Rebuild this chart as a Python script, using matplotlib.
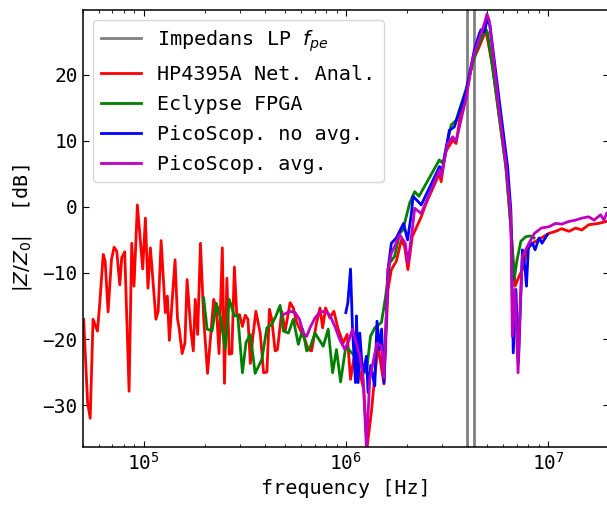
#!/usr/bin/python3

import numpy as np
import matplotlib as mpl
mpl.use('Agg')
from matplotlib import pyplot as plt

mpl.rcParams['font.size'] = 14.5
mpl.rcParams['font.family'] = 'DejaVu Sans Mono'
mpl.rcParams['xtick.labelsize'] = 14
mpl.rcParams['ytick.labelsize'] = 14
mpl.rcParams['xtick.direction'] = 'in'
mpl.rcParams['ytick.direction'] = 'in'
mpl.rcParams['xtick.top'] = True
mpl.rcParams['ytick.right'] = True
mpl.rcParams['xtick.major.size'] = 4.5
mpl.rcParams['ytick.major.size'] = 4.5
mpl.rcParams['xtick.minor.size'] = 2.4
mpl.rcParams['axes.linewidth'] = 1.1

# Plasma frequency band (impedance low-pass edges)
f_pe = [3.96e6, 4.30e6]

# HP4395A network analyser
f_hp = [5.05e4, 5.28e4, 5.44e4, 5.62e4, 5.91e4, 6.07e4, 6.31e4, 6.45e4, 6.67e4, 6.93e4,
        7.14e4, 7.36e4, 7.62e4, 7.79e4, 8.06e4, 8.47e4, 8.73e4, 8.96e4, 9.31e4, 9.89e4,
        1.02e5, 1.05e5, 1.08e5, 1.15e5, 1.18e5, 1.22e5, 1.28e5, 1.31e5, 1.34e5, 1.43e5,
        1.47e5, 1.50e5, 1.55e5, 1.60e5, 1.64e5, 1.71e5, 1.76e5, 1.80e5, 1.85e5, 1.91e5,
        1.98e5, 2.07e5, 2.22e5, 2.29e5, 2.36e5, 2.45e5, 2.51e5, 2.58e5, 2.65e5, 2.73e5,
        2.81e5, 2.89e5, 2.98e5, 3.08e5, 3.18e5, 3.28e5, 3.37e5, 3.47e5, 3.59e5, 3.77e5,
        3.92e5, 4.07e5, 4.19e5, 4.30e5, 4.47e5, 4.59e5, 4.82e5, 5.01e5, 5.30e5, 5.50e5,
        5.71e5, 6.28e5, 6.52e5, 6.77e5, 7.17e5, 7.45e5, 7.68e5, 7.94e5, 8.34e5, 8.73e5,
        9.16e5, 9.70e5, 1.015e6, 1.055e6, 1.107e6, 1.172e6, 1.226e6, 1.273e6, 1.339e6, 1.390e6,
        1.443e6, 1.544e6, 1.616e6, 1.679e6, 1.778e6, 1.881e6, 1.953e6, 2.028e6, 2.131e6, 2.36e6,
        2.50e6, 2.906e6, 2.96e6, 3.11e6, 3.38e6, 3.51e6, 3.65e6, 3.94e6, 4.24e6, 4.49e6,
        4.66e6, 4.78e6, 4.93e6, 5.32e6, 5.74e6, 6.19e6, 6.55e6, 6.87e6, 7.19e6, 7.47e6,
        7.88e6, 8.37e6, 1.012e7, 1.09e7, 1.17e7, 1.27e7, 1.37e7, 1.47e7, 1.59e7, 1.78e7,
        1.95e7]
z_hp = [-17.0, -29.6, -32.0, -17.0, -18.8, -14.5, -7.2, -8.2, -15.9, -8.0,
        -6.1, -6.7, -11.8, -7.7, -6.8, -27.9, -5.5, -12.0, 0.3, -9.4,
        -1.7, -12.3, -6.2, -17.0, -15.8, -5.1, -16.0, -13.5, -20.2, -8.0,
        -16.9, -18.5, -22.2, -20.6, -11.0, -18.5, -21.8, -14.0, -19.3, -5.5,
        -16.8, -25.2, -14.0, -15.5, -22.2, -6.2, -26.7, -10.8, -22.3, -22.2,
        -9.1, -16.5, -16.3, -18.1, -16.4, -17.0, -23.7, -19.6, -15.8, -19.1,
        -25.1, -25.0, -15.5, -17.0, -21.8, -21.6, -15.8, -18.8, -14.5, -15.3,
        -17.5, -20.1, -21.6, -21.8, -17.5, -15.3, -18.3, -15.3, -16.8, -15.8,
        -18.5, -20.6, -19.3, -26.1, -22.0, -25.1, -27.6, -36.5, -30.9, -25.6,
        -21.1, -26.8, -12.5, -9.5, -8.2, -5.0, -6.0, -9.5, -4.5, -1.5,
        0.6, 5.1, 3.8, 8.3, 10.1, 9.6, 13.1, 17.1, 22.2, 23.7,
        24.9, 25.7, 26.7, 21.2, 13.6, 6.1, -3.0, -12.0, -10.5, -9.5,
        -6.5, -5.5, -4.0, -3.7, -3.3, -3.7, -3.2, -3.5, -2.7, -2.5,
        -2.2]

# Eclypse FPGA
f_fpga = [1.98e5, 2.06e5, 2.18e5, 2.29e5, 2.40e5, 2.53e5, 2.65e5, 2.81e5, 2.92e5, 3.08e5,
          3.21e5, 3.37e5, 3.56e5, 3.84e5, 4.07e5, 4.30e5, 4.51e5, 4.73e5, 4.91e5, 5.20e5,
          5.50e5, 5.82e5, 6.12e5, 6.40e5, 6.65e5, 7.04e5, 7.73e5, 8.18e5, 8.60e5, 8.99e5,
          9.42e5, 1.0e6, 1.107e6, 1.264e6, 1.324e6, 1.39e6, 1.50e6, 1.574e6, 1.648e6, 1.742e6,
          1.845e6, 1.915e6, 2.07e6, 2.19e6, 2.30e6, 2.90e6, 3.02e6, 3.32e6, 3.51e6, 3.94e6,
          4.24e6, 4.49e6, 4.66e6, 4.93e6, 5.02e6, 5.32e6, 5.74e6, 6.19e6, 6.55e6, 6.80e6,
          7.03e6, 7.34e6, 7.77e6, 8.22e6, 8.53e6]
z_fpga = [-13.8, -18.5, -18.8, -14.6, -16.8, -21.5, -14.0, -16.5, -16.4, -25.1,
          -20.5, -19.3, -25.2, -23.1, -18.3, -17.8, -16.5, -14.9, -18.8, -19.1,
          -17.0, -20.8, -18.5, -21.8, -21.3, -19.1, -21.1, -18.5, -25.1, -21.6,
          -26.5, -21.1, -22.6, -25.1, -19.6, -18.3, -17.5, -13.5, -8.5, -7.5,
          -4.0, -3.5, 0.6, 2.3, 1.6, 7.1, 6.6, 12.4, 13.1, 17.9,
          21.7, 24.2, 25.4, 26.9, 26.4, 21.0, 13.5, 6.0, -3.0, -11.0,
          -8.0, -5.2, -4.5, -4.4, -4.7]

# PicoScope, single sweep
f_pico = [1.0e6, 1.023e6, 1.055e6, 1.079e6, 1.116e6, 1.129e6, 1.151e6, 1.172e6, 1.213e6, 1.264e6,
          1.288e6, 1.328e6, 1.39e6, 1.426e6, 1.47e6, 1.503e6, 1.544e6, 1.616e6, 1.679e6, 1.778e6,
          1.845e6, 1.93e6, 2.02e6, 2.11e6, 2.15e6, 2.23e6, 2.36e6, 2.906e6, 2.99e6, 3.25e6,
          3.44e6, 3.94e6, 4.32e6, 4.57e6, 4.66e6, 4.84e6, 5.02e6, 5.16e6, 5.74e6, 6.31e6,
          6.55e6, 6.73e6, 6.94e6, 7.14e6, 7.47e6, 7.71e6, 7.82e6, 8.0e6, 8.37e6, 8.63e6,
          9.03e6, 9.34e6, 9.93e6]
z_pico = [-16.0, -14.5, -9.4, -18.5, -26.6, -16.5, -26.6, -19.1, -25.5, -22.6,
          -28.1, -24.0, -27.1, -17.3, -21.6, -18.5, -26.6, -9.5, -5.5, -4.7,
          -3.7, -2.5, -5.0, -1.0, 1.6, 1.1, 0.3, 6.1, 5.3, 11.6,
          12.1, 17.6, 23.7, 26.2, 26.8, 26.5, 28.5, 27.5, 16.1, 6.1,
          -0.5, -22.1, -12.5, -23.6, -6.5, -9.5, -12.0, -6.0, -5.5, -6.5,
          -4.7, -5.5, -4.2]

# PicoScope, averaged
f_pavg = [4.91e5, 5.30e5, 5.61e5, 5.89e5, 6.16e5, 6.40e5, 6.65e5, 7.04e5, 7.45e5, 7.89e5,
          8.34e5, 8.83e5, 9.34e5, 9.89e5, 1.038e6, 1.079e6, 1.12e6, 1.172e6, 1.219e6, 1.264e6,
          1.313e6, 1.362e6, 1.426e6, 1.50e6, 1.544e6, 1.616e6, 1.679e6, 1.742e6, 1.845e6, 1.967e6,
          2.028e6, 2.131e6, 2.19e6, 2.36e6, 2.906e6, 2.96e6, 3.19e6, 3.38e6, 3.51e6, 3.94e6,
          4.24e6, 4.49e6, 4.84e6, 4.99e6, 5.12e6, 5.74e6, 6.19e6, 6.55e6, 6.66e6, 6.87e6,
          7.11e6, 7.28e6, 7.47e6, 8.05e6, 8.57e6, 9.27e6, 1.012e7, 1.09e7, 1.17e7, 1.27e7,
          1.37e7, 1.47e7, 1.59e7, 1.69e7, 1.82e7, 1.89e7, 1.95e7]
z_pavg = [-16.3, -15.8, -16.0, -17.0, -19.1, -19.6, -18.3, -16.8, -15.9, -15.8,
          -16.4, -18.1, -20.1, -21.6, -20.1, -18.5, -20.3, -22.6, -26.0, -36.5,
          -26.1, -23.6, -20.6, -21.1, -25.8, -9.5, -7.0, -6.0, -4.2, -5.5,
          -8.5, -3.5, -0.2, -1.0, 5.6, 4.6, 9.6, 10.6, 9.9, 16.6,
          22.4, 24.7, 27.7, 29.2, 28.2, 14.5, 6.5, -1.5, -19.6, -12.5,
          -25.1, -15.0, -7.5, -5.5, -4.0, -3.2, -3.0, -2.5, -2.6, -2.2,
          -2.0, -1.7, -1.5, -2.0, -1.2, -2.0, -1.0]


fig = plt.figure(figsize=(6.07, 5.05), dpi=100)
ax = fig.add_axes([0.1364, 0.1154, 0.8667, 0.8648])

for i, f in enumerate(f_pe):
	ax.axvline(f, color='gray', lw=2, label='Impedans LP $f_{pe}$' if i == 0 else None)
ax.plot(f_hp, z_hp, 'r-', lw=2, label='HP4395A Net. Anal.')
ax.plot(f_fpga, z_fpga, 'g-', lw=2, label='Eclypse FPGA')
ax.plot(f_pico, z_pico, 'b-', lw=2, label='PicoScop. no avg.')
ax.plot(f_pavg, z_pavg, 'm-', lw=2, label='PicoScop. avg.')

ax.set_xscale('log')
ax.set_xlim(5e4, 2e7)
ax.set_ylim(-36.3, 29.8)
ax.set_xlabel('frequency [Hz]')
ax.set_ylabel('$|Z/Z_0|$  [dB]', labelpad=6)
ax.legend(loc='upper left', labelspacing=0.55)

plt.savefig('out.png', dpi=100)
